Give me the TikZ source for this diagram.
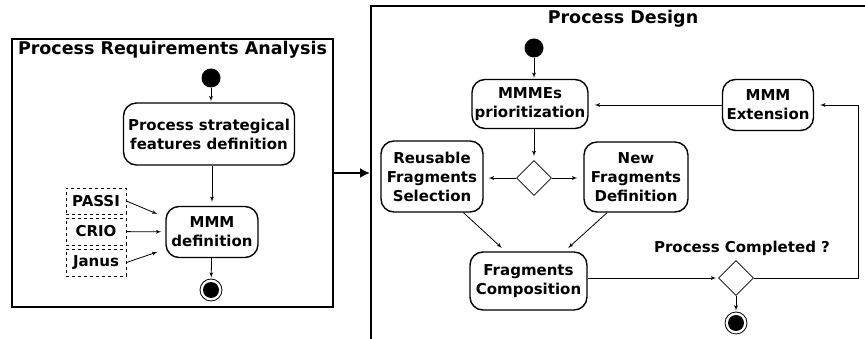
\documentclass[tikz,border=0pt]{standalone}
\usepackage{fontspec}
\setmainfont{DejaVu Sans}
\usetikzlibrary{arrows, arrows.meta, calc, shapes.geometric}

\begin{document}
\begin{tikzpicture}[
    x=1pt, y=-1pt,
    >=latex',
    font=\bfseries\fontsize{15}{19}\selectfont,
    activity/.style={draw, line width=1.4pt, rounded corners=13pt, align=center, inner sep=0pt},
    source/.style={draw, dashed, line width=0.8pt, inner sep=0pt, minimum width=60pt},
    decision/.style={draw, diamond, line width=0.8pt, inner sep=0pt, minimum width=35pt, minimum height=35pt},
    initial/.style={circle, fill=black, inner sep=0pt, minimum size=19pt},
    final/.style={circle, draw, line width=0.8pt, inner sep=0pt, minimum size=22pt,
        path picture={\fill[black] (path picture bounding box.center) circle (8pt);}},
    flow/.style={->, line width=0.8pt, shorten >=4pt},
    frame/.style={draw, line width=1.9pt, inner sep=0pt},
    title/.style={font=\bfseries\fontsize{17.5}{21}\selectfont, anchor=base}]

    \useasboundingbox (0,0) rectangle (865,339);

    % frames
    \node[frame, minimum width=321pt, minimum height=268pt] (analysis) at (172.5,173) {};
    \node[frame, minimum width=530pt, minimum height=360pt] (design) at (636,186) {};
    \node[title] (analysistitle) at (172.5,55) {Process Requirements Analysis};
    \node[title] (designtitle) at (623,24) {Process Design};

    % analysis to design
    \draw[-{Latex[length=10pt,width=10pt]}, line width=2pt] (analysis.east) -- (analysis.east -| design.west);

    % requirements analysis
    \node[initial] (start1) at (211,78) {};
    \node[activity, minimum width=171pt, minimum height=62pt] (strat) at (209,134) {Process strategical\\features definition};
    \node[activity, minimum width=92pt, minimum height=51pt] (mmmdef) at (212,232) {MMM\\definition};
    \node[source, minimum height=26pt] (passi) at (96,201) {PASSI};
    \node[source, minimum height=27pt] (crio) at (96,231.5) {CRIO};
    \node[source, minimum height=27pt] (janus) at (96,262.5) {Janus};
    \node[final] (end1) at (211,290) {};

    \draw[flow, shorten >=1pt] (start1) -- (start1 |- strat.north);
    \draw[flow] (strat.south -| mmmdef) -- (mmmdef);
    \draw[flow, shorten >=0pt] (passi.east) -- ([xshift=-8pt,yshift=18pt]mmmdef.west);
    \draw[flow] (crio) -- (mmmdef);
    \draw[flow, shorten >=0pt] (janus.east) -- ([xshift=-8pt,yshift=-20pt]mmmdef.west);
    \draw[flow, shorten >=1pt] (mmmdef) -- (end1);

    % process design
    \node[initial] (start2) at (534,48) {};
    \node[activity, minimum width=116pt, minimum height=49pt] (prio) at (530,104) {MMMEs\\prioritization};
    \node[activity, minimum width=91pt, minimum height=51pt] (ext) at (768,105) {MMM\\Extension};
    \node[decision] (choice) at (534,178) {};
    \node[activity, minimum width=102pt, minimum height=71pt] (reuse) at (432,176.5) {Reusable\\Fragments\\Selection};
    \node[activity, minimum width=104pt, minimum height=70pt] (newfrag) at (636,177) {New\\Fragments\\Definition};
    \node[activity, minimum width=117pt, minimum height=58pt] (comp) at (528.5,281) {Fragments\\Composition};
    \node[decision] (done) at (736,278) {};
    \node[anchor=base] (donelabel) at (742,253) {Process Completed ?};
    \node[final] (end2) at (736,323) {};
    \coordinate (loop) at (858,278);

    \draw[flow, shorten >=1pt] (start2) -- (start2 |- prio.north);
    \draw[flow] (prio.south -| choice) -- (choice);
    \draw[flow, shorten >=5pt] (choice) -- (choice -| reuse.east);
    \draw[flow, shorten >=6pt] (choice) -- (choice -| newfrag.west);
    \draw[flow, shorten >=5pt] (reuse.-49) -- ([xshift=-23pt]comp.north);
    \draw[flow, shorten >=5pt] (newfrag.-129) -- ([xshift=36pt]comp.north);
    \draw[flow, shorten >=2pt] (comp.east |- done) -- (done);
    \draw[flow, shorten >=1pt] (done) -- (end2);
    \draw[flow, shorten >=6pt] (done.east) -- (loop) |- (ext.east);
    \draw[flow, shorten >=6pt] (ext) -- (ext -| prio.east);

\end{tikzpicture}
\end{document}
